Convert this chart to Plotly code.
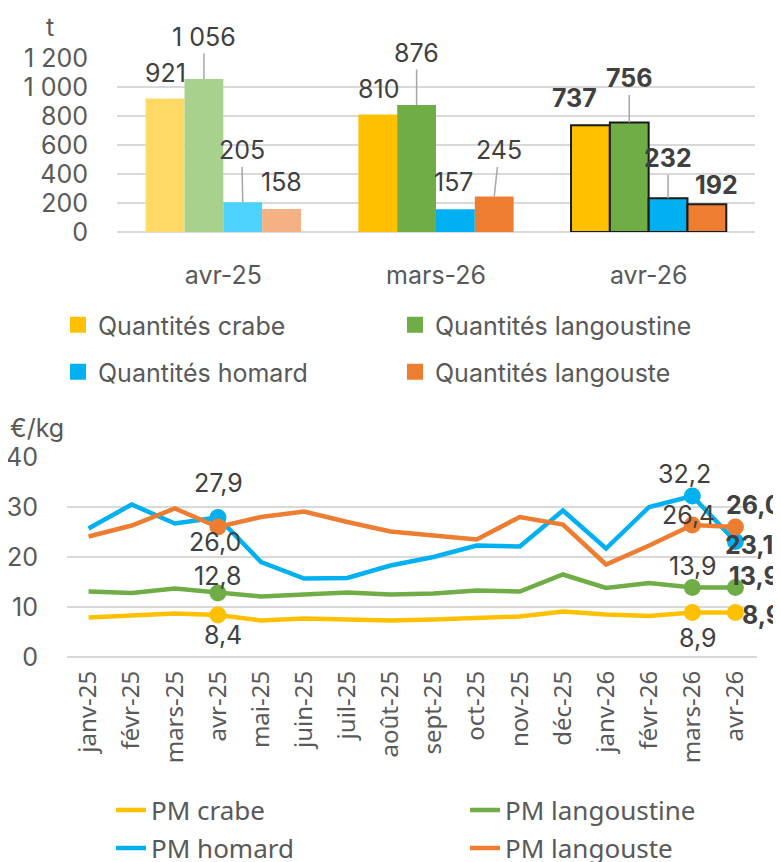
import plotly.graph_objects as go

# ---------------- data ----------------
bar_categories = ["avr-25", "mars-26", "avr-26"]
q_crabe = [921, 810, 737]
q_langoustine = [1056, 876, 756]
q_homard = [205, 157, 232]
q_langouste = [158, 245, 192]
bar_ticks = [0, 200, 400, 600, 800, 1000, 1200]
bar_ticktext = ["0", "200", "400", "600", "800", "1 000", "1 200"]

months = ["janv-25", "févr-25", "mars-25", "avr-25", "mai-25", "juin-25", "juil-25",
          "août-25", "sept-25", "oct-25", "nov-25", "déc-25", "janv-26", "févr-26",
          "mars-26", "avr-26"]
pm_crabe = [7.9, 8.3, 8.7, 8.4, 7.3, 7.7, 7.5, 7.3, 7.5, 7.7, 8.1, 9.1, 8.5, 8.2, 8.9, 8.9]
pm_langoustine = [13.1, 12.8, 13.7, 12.8, 12.1, 12.5, 12.9, 12.5, 12.7, 13.3, 13.1, 16.5, 13.8, 14.8, 13.9, 13.9]
pm_homard = [25.7, 30.5, 26.7, 27.9, 19.0, 15.7, 15.8, 18.3, 20.0, 22.3, 22.1, 29.3, 21.7, 30.0, 32.2, 23.1]
pm_langouste = [24.1, 26.3, 29.7, 26.0, 28.0, 29.1, 27.0, 25.1, 24.3, 23.5, 28.0, 26.5, 18.5, 22.3, 26.4, 26.0]
line_ticks = [0, 10, 20, 30, 40]

# ---------------- styling ----------------
OFF = 8                      # default page body margin
W, H = 781 - OFF, 862 - OFF  # figure fills the rest of the window


def fx(p):
    return (p - OFF) / W


def fy(p):
    return 1 - (p - OFF) / H


FONT = "Inter"
FONT2 = "Noto Sans"
TXT = "#595959"
LBL = "#404040"
GRID = "#d9d9d9"

c_full = {"crabe": "#FFC000", "langoustine": "#70AD47", "homard": "#00B0F0", "langouste": "#ED7D31"}
c_light = {"crabe": "#FFD966", "langoustine": "#A9D18E", "homard": "#4DD2FF", "langouste": "#F4B183"}

fig = go.Figure()

bargap = 0.27
series = [("crabe", q_crabe, "Quantités crabe", "legend", (58, 325)),
          ("langoustine", q_langoustine, "Quantités langoustine", "legend2", (395, 325)),
          ("homard", q_homard, "Quantités homard", "legend3", (58, 372)),
          ("langouste", q_langouste, "Quantités langouste", "legend4", (395, 372))]
xs = list(range(len(bar_categories)))
for key, vals, name, lg, _ in series:
    fig.add_trace(go.Bar(
        x=xs, y=vals, name=name, showlegend=False,
        marker=dict(color=[c_light[key], c_full[key], c_full[key]],
                    line=dict(color=["rgba(0,0,0,0)", "rgba(0,0,0,0)", "#1a1a1a"],
                              width=[0, 0, 2])),
        xaxis="x", yaxis="y", hoverinfo="skip"))
# legend proxies (full colour squares)
for key, vals, name, lg, _ in series:
    fig.add_trace(go.Scatter(
        x=[None], y=[None], name=name, legend=lg, mode="markers",
        marker=dict(color=c_full[key], symbol="square", size=16),
        xaxis="x", yaxis="y", hoverinfo="skip"))

# bar labels: (series idx, category idx) -> (dx px, dy px, leader)
bw = (1 - bargap) / 4
offsets = [-1.5 * bw, -0.5 * bw, 0.5 * bw, 1.5 * bw]
bar_vals = [q_crabe, q_langoustine, q_homard, q_langouste]
bar_label_pos = {
    (0, 0): (0, -25, False), (1, 0): (0, -42, True), (2, 0): (-1, -52, True), (3, 0): (0, -27, False),
    (0, 1): (1, -26, False), (1, 1): (0, -52, True), (2, 1): (-1, -27, False), (3, 1): (5, -46, True),
    (0, 2): (-16, -27, False), (1, 2): (0, -44, True), (2, 2): (0, -40, True), (3, 2): (10, -19, False),
}
for (si, ci), (dx, dy, leader) in bar_label_pos.items():
    v = bar_vals[si][ci]
    txt = f"{v:,}".replace(",", " ")
    bold = ci == 2
    fig.add_annotation(
        x=ci + offsets[si], y=v, xref="x", yref="y",
        text=f"<b>{txt}</b>" if bold else txt,
        showarrow=leader, arrowhead=0, arrowwidth=1.5, arrowcolor="#a6a6a6",
        ax=dx, ay=dy, standoff=0,
        xshift=0 if leader else dx, yshift=0 if leader else -dy,
        font=dict(family=FONT, size=25, color=LBL))

# ---------------- line chart ----------------
lines = [("crabe", pm_crabe, "PM crabe", "legend5", (111, 810)),
         ("langoustine", pm_langoustine, "PM langoustine", "legend6", (465, 810)),
         ("homard", pm_homard, "PM homard", "legend7", (111, 848)),
         ("langouste", pm_langouste, "PM langouste", "legend8", (465, 848))]
mark_idx = [3, 14, 15]
for key, vals, name, lg, _ in lines:
    fig.add_trace(go.Scatter(
        x=months, y=vals, name=name, legend=lg, mode="lines",
        line=dict(color=c_full[key], width=4.5), xaxis="x2", yaxis="y2", hoverinfo="skip"))
for key, vals, name, lg, _ in lines:
    fig.add_trace(go.Scatter(
        x=[months[i] for i in mark_idx], y=[vals[i] for i in mark_idx],
        mode="markers", showlegend=False,
        marker=dict(color=c_full[key], size=17), xaxis="x2", yaxis="y2", hoverinfo="skip"))

line_vals = {"crabe": pm_crabe, "langoustine": pm_langoustine, "homard": pm_homard, "langouste": pm_langouste}
line_label_pos = [
    ("homard", 3, 1, -35), ("langouste", 3, -3, 15), ("langoustine", 3, 0, -17), ("crabe", 3, 5, 20),
    ("homard", 14, -8, -22), ("langouste", 14, -4, -10), ("langoustine", 14, 1, -22), ("crabe", 14, 5, 25),
    ("langouste", 15, 19, -22), ("homard", 15, 14, 3), ("langoustine", 15, 19, -12), ("crabe", 15, 27, 2),
]
for key, i, dx, dy in line_label_pos:
    v = line_vals[key][i]
    txt = f"{v:.1f}".replace(".", ",")
    fig.add_annotation(
        x=months[i], y=v, xref="x2", yref="y2",
        text=f"<b>{txt}</b>" if i == 15 else txt,
        showarrow=False, xshift=dx, yshift=-dy,
        font=dict(family=FONT, size=25, color=LBL))

# axis titles
fig.add_annotation(x=fx(50), y=fy(27), xref="paper", yref="paper", text="t", showarrow=False,
                   xanchor="center", yanchor="middle", font=dict(family=FONT, size=25, color=TXT))
fig.add_annotation(x=fx(37), y=fy(428), xref="paper", yref="paper", text="€/kg", showarrow=False,
                   xanchor="center", yanchor="middle", font=dict(family=FONT, size=25, color=TXT))

legend_common = dict(orientation="h", xanchor="left", yanchor="middle",
                     bgcolor="rgba(0,0,0,0)", itemwidth=30)
legends = {}
for key, vals, name, lg, (px, py) in series:
    legends[lg] = dict(x=fx(px), y=fy(py), font=dict(family=FONT, size=25, color=TXT), **legend_common)
for key, vals, name, lg, (px, py) in lines:
    legends[lg] = dict(x=fx(px), y=fy(py), font=dict(family=FONT2, size=26, color=TXT), **legend_common)

fig.update_layout(
    width=W, height=H, margin=dict(l=0, r=0, t=0, b=0, autoexpand=False),
    paper_bgcolor="white", plot_bgcolor="white",
    barmode="group", bargap=bargap, bargroupgap=0,
    font=dict(family=FONT, color=TXT, size=22),
    xaxis=dict(domain=[fx(117), fx(755)], anchor="y", range=[-0.5, 2.5],
               tickvals=xs, ticktext=bar_categories, showgrid=False, zeroline=False,
               ticks="", ticklabelstandoff=26, tickfont=dict(family=FONT, size=25, color=TXT),
               showline=False),
    yaxis=dict(domain=[fy(232), fy(58)], anchor="x", range=[0, 1200],
               tickvals=bar_ticks, ticktext=bar_ticktext, showgrid=True, gridcolor=GRID, gridwidth=1.5,
               zeroline=True, zerolinecolor=GRID, zerolinewidth=2, ticks="", ticklabelstandoff=28,
               tickfont=dict(family=FONT, size=25, color=TXT)),
    xaxis2=dict(domain=[fx(67), fx(757)], anchor="y2", range=[-0.5, 15.5], type="category",
                showgrid=False, zeroline=False, ticks="", tickangle=-90, ticklabelstandoff=8,
                tickfont=dict(family=FONT2, size=24, color=TXT)),
    yaxis2=dict(domain=[fy(657), fy(457)], anchor="x2", range=[0, 40],
                tickvals=line_ticks, showgrid=True, gridcolor=GRID, gridwidth=1.5,
                zeroline=True, zerolinecolor=GRID, zerolinewidth=1.5, ticks="", ticklabelstandoff=28,
                tickfont=dict(family=FONT, size=25, color=TXT)),
    showlegend=True,
    **legends,
)

fig.write_html("out.html")
